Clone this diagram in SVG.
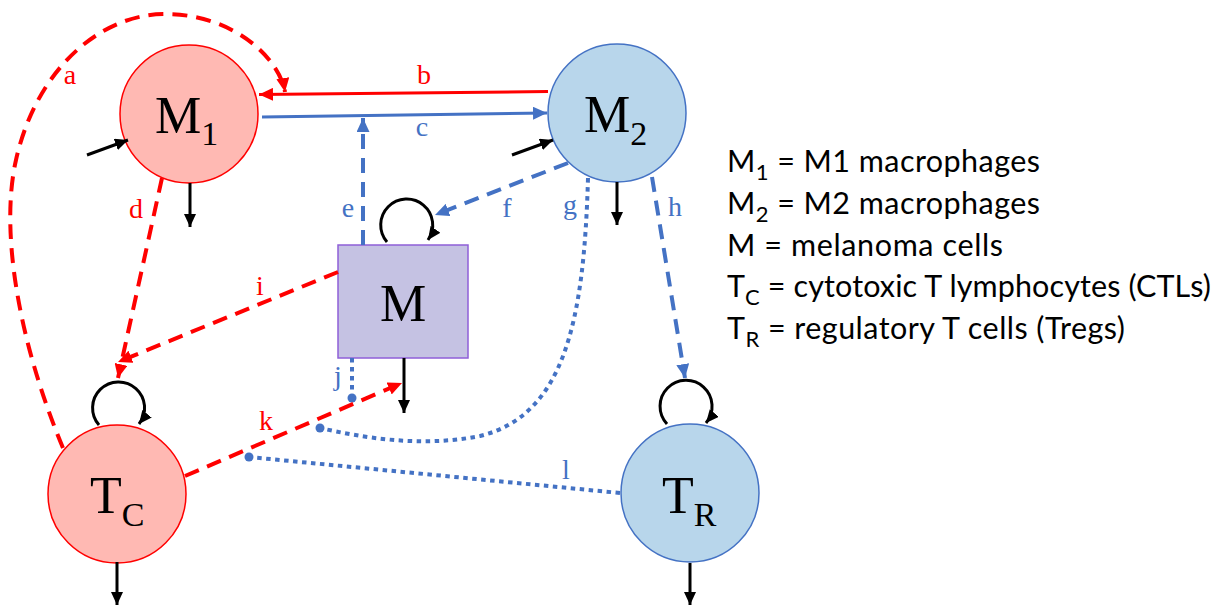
<svg xmlns="http://www.w3.org/2000/svg" width="1220" height="607" viewBox="0 0 1220 607">
<defs>
<style>
.red{stroke:#FF0000;fill:none}
.blue{stroke:#4472C4;fill:none}
.blk{stroke:#000;fill:none;stroke-width:3}
.solid{stroke-width:3}
.dash{stroke-width:4;stroke-dasharray:15 9}
.dot{stroke-width:4;stroke-dasharray:4.5 4.5}
.node{font-family:"Liberation Serif","Times New Roman",serif;font-size:52px;fill:#000}
.sub{font-size:34px}
.lbl{font-family:"Liberation Serif","Times New Roman",serif;font-size:28px;text-anchor:middle}
.lr{fill:#FF0000}
.lb{fill:#4472C4}
.leg{font-family:Lato,"Open Sans",sans-serif;font-size:30.5px;fill:#000}
.ls{font-size:22px}
.c1{fill:#FFB9B3;stroke:#FF0000;stroke-width:1.5}
.c2{fill:#B8D6EB;stroke:#4472C4;stroke-width:1.5}
.dotend{fill:#4472C4}
</style>
<marker id="ar" markerUnits="userSpaceOnUse" markerWidth="14" markerHeight="13" refX="14" refY="6.5" orient="auto"><path d="M0,0 L14,6.5 L0,13 z" fill="#FF0000"/></marker>
<marker id="ab" markerUnits="userSpaceOnUse" markerWidth="14" markerHeight="13" refX="14" refY="6.5" orient="auto"><path d="M0,0 L14,6.5 L0,13 z" fill="#4472C4"/></marker>
<marker id="ak" markerUnits="userSpaceOnUse" markerWidth="13" markerHeight="12" refX="13" refY="6" orient="auto"><path d="M0,0 L13,6 L0,12 z" fill="#000"/></marker>
</defs>
<rect width="1220" height="607" fill="#fff"/>

<g id="node-M1">
<circle class="c1" cx="189" cy="114" r="69"/>
<text class="node" x="155" y="133">M<tspan class="sub" dy="12">1</tspan></text>
</g>
<g id="node-M2">
<circle class="c2" cx="617" cy="113" r="69"/>
<text class="node" x="584" y="132">M<tspan class="sub" dy="13">2</tspan></text>
</g>
<g id="node-M">
<rect x="338" y="245" width="130" height="113" fill="#C5C2E3" stroke="#8F5FD8" stroke-width="1.5"/>
<text class="node" x="403" y="321" text-anchor="middle">M</text>
</g>
<g id="node-TC">
<circle class="c1" cx="117" cy="494" r="69"/>
<text class="node" x="90" y="513">T<tspan class="sub" dy="13">C</tspan></text>
</g>
<g id="node-TR">
<circle class="c2" cx="690" cy="493" r="69"/>
<text class="node" x="662" y="513">T<tspan class="sub" dy="13">R</tspan></text>
</g>

<g id="connectors">
<path class="red dash" d="M63,448 C18,340 0,230 16,160 C36,70 100,14 165,14 C235,14 280,60 285,92" marker-end="url(#ar)"/>
<path class="red solid" d="M548,91.5 L259,94.5" marker-end="url(#ar)"/>
<path class="blue solid" d="M262,117 L547,113" marker-end="url(#ab)"/>
<path class="red dash" d="M162,178 L118,378" marker-end="url(#ar)"/>
<path class="blue dash" d="M363,245 L363,118" marker-end="url(#ab)"/>
<path class="blue dash" d="M568,163 L435,215" marker-end="url(#ab)"/>
<path class="blue dot" d="M588,178 C584,320 565,415 480,436 C420,448 360,437 320,428"/>
<circle class="dotend" cx="320" cy="428" r="4.5"/>
<path class="blue dash" d="M652,177 L685,378" marker-end="url(#ab)"/>
<path class="red dash" d="M338,272 L118,362" marker-end="url(#ar)"/>
<path class="blue dot" d="M352,358 L352,398"/>
<circle class="dotend" cx="352" cy="398" r="4.5"/>
<path class="red dash" d="M185,476 L402,383" marker-end="url(#ar)"/>
<path class="blue dot" d="M620,493 L249,457"/>
<circle class="dotend" cx="249" cy="457" r="4.5"/>

<path class="blk" d="M87,155 L128,140" marker-end="url(#ak)"/>
<path class="blk" d="M190,183 L190,227" marker-end="url(#ak)"/>
<path class="blk" d="M512,155 L553,140" marker-end="url(#ak)"/>
<path class="blk" d="M617,182 L617,225" marker-end="url(#ak)"/>
<path class="blk" d="M404,358 L404,413" marker-end="url(#ak)"/>
<path class="blk" d="M117,562 L117,605" marker-end="url(#ak)"/>
<path class="blk" d="M690,563 L690,605" marker-end="url(#ak)"/>

<path class="blk" d="M387,242 A26,26 0 1 1 428,240" marker-end="url(#ak)"/>
<path class="blk" d="M99,425 A26,26 0 1 1 139,424" marker-end="url(#ak)"/>
<path class="blk" d="M667,424 A26,26 0 1 1 706,423" marker-end="url(#ak)"/>

<text class="lbl lr" x="70" y="84">a</text>
<text class="lbl lr" x="424" y="84">b</text>
<text class="lbl lb" x="422" y="136">c</text>
<text class="lbl lr" x="136" y="218">d</text>
<text class="lbl lb" x="348" y="217">e</text>
<text class="lbl lb" x="507" y="217">f</text>
<text class="lbl lb" x="570" y="214">g</text>
<text class="lbl lb" x="675" y="216">h</text>
<text class="lbl lr" x="260" y="295">i</text>
<text class="lbl lb" x="338" y="385">j</text>
<text class="lbl lr" x="266" y="430">k</text>
<text class="lbl lb" x="566" y="479">l</text>
</g>

<g id="legend">
<text class="leg" x="727" y="172" textLength="313">M<tspan class="ls" dy="8">1</tspan><tspan dy="-8"> = M1 macrophages</tspan></text>
<text class="leg" x="727" y="214" textLength="313">M<tspan class="ls" dy="8">2</tspan><tspan dy="-8"> = M2 macrophages</tspan></text>
<text class="leg" x="727" y="255.5" textLength="276">M = melanoma cells</text>
<text class="leg" x="727" y="297" textLength="484">T<tspan class="ls" dy="8">C</tspan><tspan dy="-8"> = cytotoxic T lymphocytes (CTLs)</tspan></text>
<text class="leg" x="727" y="339" textLength="398">T<tspan class="ls" dy="8">R</tspan><tspan dy="-8"> = regulatory T cells (Tregs)</tspan></text>
</g>
</svg>
